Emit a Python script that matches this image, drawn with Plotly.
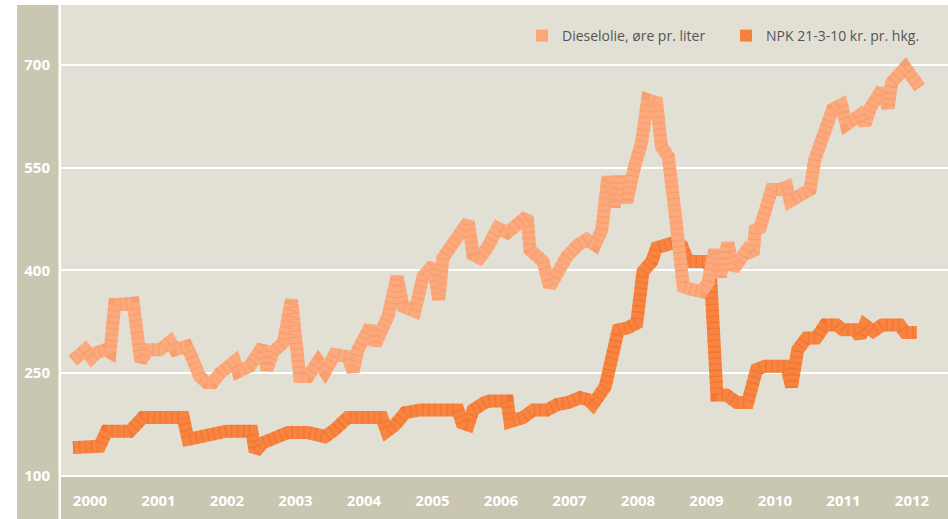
import plotly.graph_objects as go

# ---- data (decimal years, values) ----
diesel_t = [2000.00, 2000.18, 2000.27, 2000.35, 2000.47, 2000.54, 2000.61, 2000.73, 2000.88, 2000.99,
            2001.09, 2001.27, 2001.42, 2001.49, 2001.66, 2001.73, 2001.85, 2001.95, 2002.04, 2002.15,
            2002.29, 2002.36, 2002.41, 2002.58, 2002.77, 2002.83, 2002.92, 2003.07, 2003.19, 2003.31,
            2003.43, 2003.58, 2003.68, 2003.82, 2004.01, 2004.09, 2004.16, 2004.34, 2004.41, 2004.60,
            2004.73, 2004.82, 2004.99, 2005.11, 2005.26, 2005.34, 2005.40, 2005.62, 2005.77, 2005.84,
            2005.94, 2006.06, 2006.20, 2006.34, 2006.45, 2006.63, 2006.67, 2006.86, 2006.96, 2007.08,
            2007.21, 2007.37, 2007.50, 2007.62, 2007.72, 2007.81, 2007.90, 2007.99, 2008.08, 2008.20,
            2008.30, 2008.39, 2008.52, 2008.59, 2008.69, 2008.79, 2008.91, 2009.03, 2009.18, 2009.27,
            2009.37, 2009.45, 2009.56, 2009.64, 2009.84, 2009.93, 2009.96, 2010.03, 2010.20, 2010.32,
            2010.42, 2010.47, 2010.61, 2010.76, 2010.83, 2010.95, 2011.09, 2011.22, 2011.29, 2011.49,
            2011.56, 2011.64, 2011.81, 2011.90, 2011.95, 2012.15, 2012.26, 2012.36]
diesel_v = [268, 284, 272, 280, 284, 280, 350, 350, 352, 267,
            284, 284, 296, 284, 289, 274, 245, 236, 236, 250,
            265, 267, 252, 260, 289, 255, 281, 294, 357, 245,
            245, 267, 252, 277, 274, 252, 284, 318, 291, 333,
            391, 347, 340, 391, 408, 357, 418, 455, 471, 423,
            418, 435, 462, 455, 462, 479, 430, 413, 376, 401,
            420, 437, 445, 437, 459, 537, 493, 537, 499, 552,
            586, 649, 645, 581, 566, 484, 376, 372, 369, 382,
            430, 391, 440, 401, 430, 423, 459, 462, 518, 518,
            522, 501, 508, 518, 562, 591, 635, 642, 613, 627,
            613, 637, 664, 637, 674, 696, 683, 667]

npk_t = [2000.00, 2000.29, 2000.39, 2000.49, 2000.66, 2000.83, 2001.02, 2001.27, 2001.61, 2001.68,
         2001.85, 2002.04, 2002.24, 2002.61, 2002.66, 2002.77, 2002.95, 2003.14, 2003.43, 2003.68,
         2003.82, 2004.01, 2004.36, 2004.51, 2004.58, 2004.70, 2004.85, 2005.07, 2005.62, 2005.68,
         2005.77, 2005.84, 2006.01, 2006.09, 2006.34, 2006.38, 2006.57, 2006.72, 2006.92, 2007.07,
         2007.23, 2007.40, 2007.52, 2007.59, 2007.77, 2007.84, 2007.96, 2008.10, 2008.23, 2008.32,
         2008.45, 2008.52, 2008.64, 2008.76, 2008.89, 2008.98, 2009.23, 2009.30, 2009.40, 2009.54,
         2009.69, 2009.85, 2009.98, 2010.10, 2010.42, 2010.49, 2010.58, 2010.71, 2010.85, 2010.98,
         2011.15, 2011.24, 2011.42, 2011.49, 2011.56, 2011.68, 2011.81, 2012.07, 2012.15, 2012.32]
npk_v = [141, 145, 143, 165, 163, 165, 185, 185, 185, 153,
         157, 165, 165, 165, 135, 148, 155, 163, 163, 157,
         167, 185, 185, 185, 165, 174, 192, 196, 196, 177,
         174, 196, 207, 209, 209, 179, 185, 196, 196, 204,
         207, 214, 211, 204, 230, 265, 313, 316, 323, 398,
         413, 433, 437, 440, 435, 413, 413, 406, 218, 218,
         207, 207, 255, 260, 260, 230, 284, 301, 301, 320,
         320, 313, 313, 303, 320, 311, 320, 320, 309, 309]

years = list(range(2000, 2013))
year_labels = [str(y) for y in years]
y_ticks = [100, 250, 400, 550, 700]
series_names = ["Dieselolie, øre pr. liter", "NPK 21-3-10 kr. pr. hkg."]

# ---- style ----
BG = "#e2e0d4"
STRIP = "#c9c6b1"
DIESEL = "#fcaa7d"
DIESEL_DARK = "#f3915c"
NPK = "#f8843f"
NPK_DARK = "#e8652a"
FONT = "Open Sans"
LW = 13

fig = go.Figure()
# NPK underneath, diesel on top; each = solid band + darker dashed stripes for texture
fig.add_trace(go.Scatter(x=npk_t, y=npk_v, mode="lines",
                         line=dict(color=NPK, width=LW), showlegend=False, hoverinfo="skip"))
fig.add_trace(go.Scatter(x=npk_t, y=npk_v, mode="lines",
                         line=dict(color=NPK_DARK, width=LW, dash="1.5px,4.5px"),
                         opacity=0.4, showlegend=False, hoverinfo="skip"))
fig.add_trace(go.Scatter(x=diesel_t, y=diesel_v, mode="lines",
                         line=dict(color=DIESEL, width=LW), showlegend=False, hoverinfo="skip"))
fig.add_trace(go.Scatter(x=diesel_t, y=diesel_v, mode="lines",
                         line=dict(color=DIESEL_DARK, width=LW, dash="1.5px,4.5px"),
                         opacity=0.4, showlegend=False, hoverinfo="skip"))

# legend swatches
fig.add_trace(go.Bar(x=[None], y=[None], name=series_names[0],
                     marker=dict(color=DIESEL, line=dict(width=0),
                                 pattern=dict(shape="/", fgcolor=DIESEL_DARK, bgcolor=DIESEL,
                                              size=5, solidity=0.25))))
fig.add_trace(go.Bar(x=[None], y=[None], name=series_names[1],
                     marker=dict(color=NPK, line=dict(width=0),
                                 pattern=dict(shape="/", fgcolor=NPK_DARK, bgcolor=NPK,
                                              size=5, solidity=0.25))))

W, H = 948, 519
L, R, T, B = 61, 0, 5, 42
pw = W - L - R
ph = H - T - B

def px_x(px):
    return (px - L) / pw

def px_y(py):
    return (H - B - py) / ph

shapes = [
    dict(type="rect", xref="paper", yref="paper", x0=px_x(17), x1=px_x(58.5),
         y0=px_y(H), y1=px_y(T), fillcolor=STRIP, line=dict(width=0), layer="below"),
    dict(type="rect", xref="paper", yref="paper", x0=0, x1=1,
         y0=px_y(H), y1=px_y(477), fillcolor=STRIP, line=dict(width=0), layer="below"),
]

tickfont = dict(family=FONT, size=15, color="white", weight="bold")

fig.update_layout(
    width=W, height=H,
    margin=dict(l=L, r=R, t=T, b=B, pad=0),
    paper_bgcolor="white",
    plot_bgcolor=BG,
    font=dict(family=FONT, size=14, color="#555555"),
    showlegend=True,
    xaxis=dict(range=[1999.825, 2012.774], tickvals=years, ticktext=year_labels,
               showgrid=False, zeroline=False, showline=False, ticks="",
               tickfont=tickfont, ticklabelshift=17, ticklabelstandoff=13, fixedrange=True),
    yaxis=dict(range=[98.1, 787.5], tickvals=y_ticks, showgrid=True, gridcolor="white",
               gridwidth=2, zeroline=False, showline=False, ticks="",
               tickfont=tickfont, ticklabelstandoff=10, fixedrange=True),
    legend=dict(orientation="h", x=px_x(930), xanchor="right", y=px_y(36), yanchor="middle",
                bgcolor="rgba(0,0,0,0)", font=dict(family=FONT, size=14, color="#555555"),
                traceorder="normal", entrywidth=159, entrywidthmode="pixels"),
    shapes=shapes,
)

fig.write_html("out.html", config={"displayModeBar": False},
               post_script="document.body.style.margin='0';")
